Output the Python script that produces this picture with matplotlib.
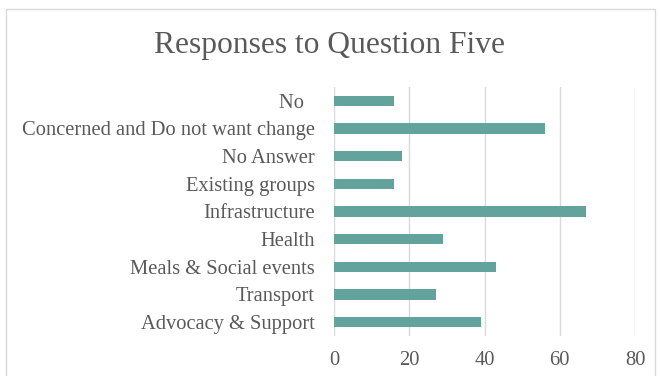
import matplotlib.pyplot as plt
from matplotlib.patches import Rectangle

categories = ["Advocacy & Support", "Transport", "Meals & Social events", "Health",
              "Infrastructure", "Existing groups", "No Answer",
              "Concerned and Do not want change", "No  "]
responses = [39, 27, 43, 29, 67, 16, 18, 56, 16]
x_ticks = [0, 20, 40, 60, 80]

text_col = "#595959"
plt.rcParams["font.family"] = ["Liberation Serif", "DejaVu Serif"]

fig = plt.figure(figsize=(6.6, 3.76), dpi=100)
ax = fig.add_axes([334 / 660, 1 - 336 / 376, 301 / 660, 249 / 376])

ax.barh(range(len(categories)), responses, height=0.37, color="#62A39D", zorder=3)
ax.set_yticks(range(len(categories)))
ax.set_yticklabels(categories)
ax.set_ylim(-0.5, len(categories) - 0.5)
ax.set_xlim(0, 80)
ax.set_xticks(x_ticks)

ax.grid(axis="x", color="#D9D9D9", linewidth=1, zorder=0)
for s in ax.spines.values():
    s.set_visible(False)
ax.tick_params(axis="both", length=0, colors=text_col, labelsize=14.8)
ax.tick_params(axis="x", pad=11)
ax.tick_params(axis="y", pad=14)

fig.text(0.5, 1 - 45 / 376, "Responses to Question Five", ha="center", va="center",
         fontsize=22.7, color=text_col)

# light chart-area frame
fig.patches.append(Rectangle((6 / 660, -0.01), 649 / 660, 1 - 9 / 376 + 0.01,
                             transform=fig.transFigure, fill=False,
                             edgecolor="#D9D9D9", linewidth=1))

fig.savefig("out.png", dpi=100)
